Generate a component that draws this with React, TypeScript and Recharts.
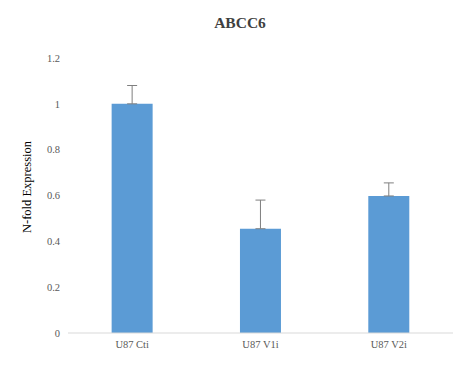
import React from 'react';
import { BarChart, Bar, XAxis, YAxis, ErrorBar, Label } from 'recharts';

const categories = ['U87 Cti', 'U87 V1i', 'U87 V2i'];
const values = [1.0, 0.455, 0.598];
const errorsUp = [0.08, 0.125, 0.057];
const yTicks = [0, 0.2, 0.4, 0.6, 0.8, 1, 1.2];

const data = categories.map((name, i) => ({
  name,
  value: values[i],
  err: [0, errorsUp[i]],
}));

const FONT = 'Liberation Serif';

export default function App() {
  return (
    <div style={{ position: 'absolute', left: 0, top: 0, width: 474, height: 369, background: '#fff', fontFamily: FONT }}>
      <BarChart
        width={474}
        height={369}
        data={data}
        margin={{ top: 58, right: 21, bottom: 2, left: 28 }}
        barCategoryGap="34%"
        style={{ fontFamily: FONT }}
      >
        <text x={240} y={28} textAnchor="middle" style={{ fontFamily: FONT, fontSize: 15.5, fontWeight: 'bold', fill: '#404040' }}>
          ABCC6
        </text>
        <XAxis
          dataKey="name"
          axisLine={{ stroke: '#d9d9d9' }}
          tickLine={false}
          tick={{ fill: '#595959', fontSize: 10.5, fontFamily: FONT }}
          height={34}
        />
        <YAxis
          width={40}
          domain={[0, 1.2]}
          ticks={yTicks}
          axisLine={false}
          tickLine={false}
          tick={{ fill: '#595959', fontSize: 10.5, fontFamily: FONT }}
          tickFormatter={(v: number) => String(Math.round(v * 10) / 10)}
        >
          <Label
            content={() => (
              <text
                x={0}
                y={0}
                transform="translate(31,187) rotate(-90)"
                textAnchor="middle"
                style={{ fontFamily: FONT, fontSize: 12.5, fill: '#000' }}
              >
                N-fold Expression
              </text>
            )}
          />
        </YAxis>
        <Bar dataKey="value" fill="#5b9bd5" isAnimationActive={false}>
          <ErrorBar dataKey="err" width={5} stroke="#7f7f7f" strokeWidth={1} direction="y" />
        </Bar>
      </BarChart>
    </div>
  );
}
